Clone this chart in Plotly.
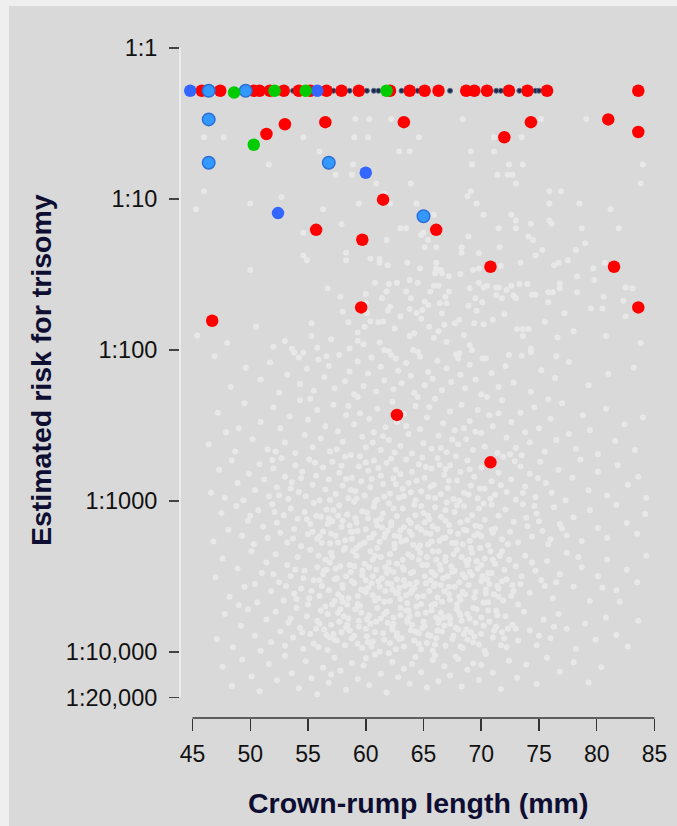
import plotly.graph_objects as go

# ---------------- data ----------------
x_ticks = [45, 50, 55, 60, 65, 70, 75, 80, 85]
y_ticks = [1, 10, 100, 1000, 10000, 20000]
y_tick_labels = ["1:1", "1:10", "1:100", "1:1000", "1:10,000", "1:20,000"]

red_crl = [45.8, 47.4, 50.3, 50.8, 51.7, 52.9, 54.2, 55.2, 56.6, 57.9, 59.4, 62.1, 63.8, 65.1,
           66.3, 68.7, 69.4, 70.5, 72.4, 74.0, 75.7, 83.6,
           53.0, 56.5, 63.3, 74.3, 81.0, 83.6, 51.4, 72.0, 61.5, 55.7, 66.1, 59.7, 70.8, 81.5,
           59.6, 83.6, 46.7, 62.7, 70.8]
red_risk = [1.92, 1.92, 1.92, 1.92, 1.92, 1.92, 1.92, 1.92, 1.92, 1.92, 1.92, 1.92, 1.92, 1.92,
            1.92, 1.92, 1.92, 1.92, 1.92, 1.92, 1.92, 1.92,
            3.2, 3.1, 3.1, 3.1, 2.97, 3.6, 3.71, 3.9, 10.1, 16.0, 16.0, 18.6, 28.1, 28.1,
            52.2, 52.2, 64.0, 269, 554]

blue_crl = [44.8, 55.8, 60.0, 52.4]
blue_risk = [1.92, 1.92, 6.7, 12.4]

lightblue_crl = [46.4, 49.6, 46.4, 46.4, 56.8, 65.0]
lightblue_risk = [1.92, 1.92, 2.97, 5.75, 5.75, 13.0]

green_crl = [48.6, 52.1, 54.8, 61.8, 50.3]
green_risk = [1.97, 1.92, 1.92, 1.92, 4.37]

black_crl = [53.7, 57.2, 57.9, 58.6, 60.1, 60.7, 61.1, 63.1, 64.5, 67.3, 71.3, 71.7, 73.3, 74.7, 75.0]
black_risk = [1.92, 1.92, 1.92, 1.92, 1.92, 1.92, 1.92, 1.92, 1.92, 1.92, 1.92, 1.92, 1.92, 1.92, 1.92]

# unaffected pregnancies (background cloud): (crown-rump length, risk 1:N)
cloud_points = [
    (59.1, 2.95), (60.3, 2.95), (62.2, 2.95), (68.4, 2.95), (75.2, 2.95), (79.1, 2.95),
    (46.0, 3.9), (47.7, 3.9), (54.6, 3.9), (59.0, 3.9), (60.2, 3.9), (64.6, 3.9), (71.1, 3.9), (73.5, 3.9),
    (56.0, 4.85), (62.9, 4.85), (63.8, 4.85), (69.1, 4.85), (71.1, 4.85),
    (51.6, 5.9), (58.9, 5.9), (69.2, 5.9), (72.4, 5.9), (73.6, 5.9), (84.0, 5.9),
    (57.4, 6.9), (58.8, 6.9), (71.4, 6.9), (72.3, 6.9), (72.7, 6.9), (60.9, 7.9), (63.9, 7.9), (73.0, 7.9),
    (83.8, 7.9), (46.0, 8.9), (69.1, 8.9), (75.9, 8.9), (76.9, 8.9), (61.6, 9.2), (68.8, 9.6), (52.7, 9.7),
    (50.0, 10.7), (59.4, 10.7), (62.1, 10.7), (64.4, 10.7), (69.6, 10.7), (75.9, 10.7), (78.5, 10.7),
    (45.3, 11.7), (56.3, 11.7), (81.2, 11.7), (65.9, 12.7), (70.2, 12.7), (72.6, 12.7), (73.0, 13.9),
    (75.9, 13.9), (76.1, 14.6), (74.3, 14.6), (57.9, 14.7), (73.0, 15.6), (71.5, 15.6), (78.7, 15.6),
    (81.9, 15.6), (63.0, 15.6), (63.5, 15.6), (54.6, 16.7), (65.0, 16.7), (64.8, 17.3), (68.9, 17.7),
    (74.1, 17.7), (74.5, 18.7), (61.8, 18.7), (65.4, 18.7), (79.0, 19.6),
    (68.3, 20.9), (71.6, 20.9), (65.1, 20.9), (66.1, 20.9), (75.3, 21.8), (78.2, 21.8), (68.3, 22.7),
    (58.3, 22.7), (69.8, 22.9), (74.7, 23.7), (54.6, 23.7), (60.4, 24.9), (61.2, 24.9), (58.3, 25.4),
    (54.9, 25.4), (77.5, 25.4), (61.2, 26.4), (63.6, 26.4), (66.1, 26.4), (73.4, 26.4), (76.7, 26.4),
    (80.7, 26.4), (61.9, 27.5), (76.3, 27.5), (71.7, 27.8), (64.7, 28.8), (66.1, 28.8), (69.8, 28.8),
    (79.7, 28.8), (50.0, 29.5), (66.5, 29.5), (69.3, 29.5), (66.3, 29.5), (66.6, 31.0), (66.0, 31.0),
    (68.2, 31.4), (67.2, 32.5), (78.3, 32.6), (63.8, 34.4), (79.8, 34.4), (64.5, 35.8), (62.7, 35.8),
    (60.8, 35.8), (69.8, 35.8), (76.8, 36.2), (62.0, 36.6), (73.3, 36.6), (74.0, 36.6), (72.6, 37.6),
    (70.5, 37.6), (66.3, 37.6), (65.9, 37.6), (82.5, 38.5), (71.3, 38.5), (71.5, 38.5), (70.2, 38.6),
    (83.1, 39.0), (76.8, 39.0), (69.0, 39.0), (56.7, 39.0), (72.2, 40.0), (63.5, 41.0), (61.8, 41.0),
    (65.6, 41.0), (67.2, 41.0), (75.8, 41.4), (76.2, 41.4), (78.3, 41.4), (60.0, 42.5), (74.4, 43.0),
    (74.7, 43.0), (71.3, 43.3), (72.8, 43.6), (80.6, 44.4), (66.9, 44.4), (57.8, 44.4), (61.4, 45.4),
    (63.9, 45.4), (69.5, 45.4), (71.8, 45.4), (73.0, 45.4), (82.3, 47.1), (65.1, 47.7), (75.8, 48.3),
    (70.1, 48.3),
    (60.0, 49), (66.4, 49), (67.0, 49), (65.4, 50.3), (68.9, 50.9), (62.1, 51.7), (63.8, 53.4), (79.5, 53),
    (80.5, 53), (64.9, 54.4), (61.9, 55), (69.6, 55), (58.0, 55.8), (66.6, 57), (64.4, 57), (77.2, 57),
    (60.1, 57), (71.0, 63), (68.1, 63), (60.4, 64.6), (61.5, 64.8), (61.1, 65.6), (58.5, 65.6), (69.4, 66.5),
    (55.3, 66.5), (67.7, 66.5), (70.2, 67.5), (59.9, 70), (73.1, 72.5), (73.6, 72.5), (74.1, 72.5),
    (59.3, 76.5), (64.2, 77.5), (68.5, 79.5), (45.4, 80), (73.6, 80.8), (80.8, 80.8), (55.3, 80.8),
    (63.8, 80.8), (76.6, 82.5), (57.0, 84.8), (53.0, 87), (59.3, 86.9), (61.2, 89), (59.8, 91.5),
    (69.0, 92.6), (55.8, 96.5), (74.3, 97.6), (53.6, 97.6), (58.6, 97.6), (64.1, 100), (61.6, 100),
    (69.2, 100), (64.8, 62), (65.5, 70), (66.3, 75), (67.0, 88), (62.5, 72), (63.0, 60), (65.9, 83),
    (66.8, 68), (72.0, 58), (75.5, 65), (78.0, 75), (82.5, 60), (83.8, 90), (48.0, 90), (50.5, 70),
    (52.0, 95), (72.4, 108), (76.5, 110), (68.1, 105), (68.0, 114), (70.1, 114), (62.2, 108), (62.6, 114),
    (54.6, 104), (54.2, 112), (56.6, 110), (64.5, 103), (74.3, 103),
    # 1:100 - 1:200
    (46.9, 110), (48.3, 176), (49.6, 131), (50.9, 157), (51.7, 121), (52.5, 191), (53.2, 146), (53.8, 104),
    (54.3, 168), (54.9, 133), (55.5, 186), (55.9, 116), (56.4, 151), (56.8, 127), (57.3, 179), (57.7, 108),
    (58.2, 161), (58.6, 139), (59.0, 196), (59.3, 119), (59.8, 173), (60.2, 143), (60.5, 112), (60.9, 188),
    (61.3, 129), (61.6, 159), (62.0, 102), (62.4, 182), (62.8, 137), (63.1, 166), (63.5, 122), (63.9, 148),
    (64.2, 192), (64.7, 111), (65.1, 171), (65.4, 140), (65.8, 155), (66.2, 118), (66.6, 185), (67.0, 132),
    (67.4, 163), (67.8, 107), (68.2, 146), (68.6, 179), (69.0, 125), (69.5, 157), (70.0, 197), (70.4, 114),
    (70.9, 142), (71.5, 176), (72.1, 128), (72.8, 164), (73.5, 109), (74.3, 189), (75.2, 136), (76.4, 153),
    (77.6, 120), (79.3, 171), (81.0, 144), (83.2, 131),
    # 1:200 - 1:500
    (46.4, 420), (47.2, 260), (47.9, 350), (48.7, 470), (49.5, 225), (50.2, 390), (50.9, 300), (51.5, 455),
    (52.0, 240), (52.6, 330), (53.0, 410), (53.4, 275), (53.9, 480), (54.3, 215), (54.7, 365), (55.0, 290),
    (55.4, 440), (55.8, 250), (56.1, 385), (56.5, 320), (56.9, 470), (57.2, 230), (57.6, 345), (58.0, 405),
    (58.3, 270), (58.7, 495), (59.0, 310), (59.3, 205), (59.7, 375), (60.0, 440), (60.3, 285), (60.7, 350),
    (61.0, 245), (61.3, 460), (61.7, 325), (62.0, 395), (62.3, 220), (62.7, 300), (63.0, 430), (63.3, 265),
    (63.7, 360), (64.0, 485), (64.3, 235), (64.7, 335), (65.0, 415), (65.3, 280), (65.7, 450), (66.0, 210),
    (66.3, 370), (66.7, 305), (67.0, 475), (67.3, 255), (67.7, 340), (68.0, 420), (68.3, 230), (68.7, 390),
    (69.0, 295), (69.3, 460), (69.7, 250), (70.0, 355), (70.3, 435), (70.7, 270), (71.0, 320), (71.4, 480),
    (71.8, 215), (72.2, 380), (72.6, 300), (73.0, 445), (73.4, 260), (73.8, 350), (74.2, 410), (74.6, 240),
    (75.0, 330), (75.5, 470), (76.0, 285), (76.5, 395), (77.0, 225), (77.6, 360), (78.2, 450), (78.8, 270),
    (79.4, 340), (80.1, 490), (80.8, 245), (81.6, 400), (82.4, 310), (83.3, 460), (84.0, 280), (55.2, 210),
    (58.5, 235), (60.6, 410), (62.5, 478), (64.5, 205), (66.5, 445), (68.5, 330), (70.5, 205), (72.5, 490),
    (57.5, 455), (59.5, 262), (61.5, 372), (63.5, 318), (65.5, 238), (67.5, 392), (69.5, 348), (71.5, 262),
    (73.5, 498), (75.8, 212), (52.2, 470), (49.0, 330),
    # 1:500 - 1:1000
    (46.6, 880), (47.3, 620), (47.8, 950), (48.4, 540), (48.9, 760), (49.4, 990), (49.9, 660), (50.4, 850),
    (50.8, 570), (51.2, 720), (51.6, 930), (52.0, 610), (52.3, 810), (52.7, 520), (53.0, 690), (53.3, 970),
    (53.6, 750), (53.9, 580), (54.2, 870), (54.5, 640), (54.8, 930), (55.1, 530), (55.4, 780), (55.7, 680),
    (56.0, 990), (56.3, 600), (56.5, 840), (56.8, 720), (57.1, 550), (57.4, 900), (57.7, 650), (58.0, 790),
    (58.2, 510), (58.5, 960), (58.8, 700), (59.1, 860), (59.4, 590), (59.6, 740), (59.9, 920), (60.2, 630),
    (60.4, 810), (60.7, 540), (61.0, 980), (61.3, 680), (61.5, 770), (61.8, 560), (62.1, 890), (62.4, 710),
    (62.6, 620), (62.9, 950), (63.2, 830), (63.5, 530), (63.7, 760), (64.0, 640), (64.3, 990), (64.6, 570),
    (64.8, 860), (65.1, 700), (65.4, 940), (65.7, 610), (65.9, 780), (66.2, 520), (66.5, 900), (66.8, 670),
    (67.1, 820), (67.3, 580), (67.6, 970), (67.9, 730), (68.2, 640), (68.5, 880), (68.8, 540), (69.1, 790),
    (69.4, 690), (69.7, 960), (70.0, 600), (70.3, 830), (70.6, 560), (70.9, 740), (71.2, 910), (71.5, 650),
    (71.9, 510), (72.2, 870), (72.6, 720), (73.0, 980), (73.4, 590), (73.8, 800), (74.2, 660), (74.7, 940),
    (75.1, 550), (75.6, 760), (76.1, 880), (76.7, 620), (77.3, 990), (77.9, 700), (78.6, 530), (79.3, 850),
    (80.1, 640), (80.9, 920), (81.8, 580), (82.7, 780), (83.6, 690), (84.3, 950), (57.9, 585), (58.7, 845),
    (59.5, 505), (60.5, 715), (61.6, 935), (62.2, 525), (63.0, 665), (63.9, 875), (64.9, 515), (65.6, 805),
    (66.4, 575), (67.2, 735), (68.1, 995), (69.0, 615), (69.9, 825), (55.6, 555), (56.9, 985), (54.4, 705),
    (70.8, 965), (71.7, 785), (72.9, 545), (73.6, 885), (74.9, 705), (53.5, 825), (52.5, 915), (51.9, 535),
    (60.0, 555), (61.1, 605), (62.6, 775), (63.3, 925), (64.4, 735), (66.0, 955), (67.8, 505), (68.9, 905),
    (66.9, 615), (65.2, 595), (59.2, 965), (58.3, 715),
    # 1:1000 - 1:2000
    (46.8, 1850), (47.5, 1200), (48.1, 1550), (48.8, 1080), (49.3, 1700), (49.8, 1350), (50.3, 1930),
    (50.7, 1150), (51.1, 1480), (51.5, 1760), (51.9, 1050), (52.3, 1390), (52.6, 1620), (52.9, 1240),
    (53.2, 1880), (53.5, 1120), (53.8, 1530), (54.1, 1310), (54.4, 1990), (54.7, 1180), (55.0, 1660),
    (55.2, 1420), (55.5, 1030), (55.8, 1780), (56.1, 1270), (56.3, 1590), (56.6, 1140), (56.9, 1910),
    (57.1, 1360), (57.4, 1700), (57.7, 1070), (57.9, 1480), (58.2, 1820), (58.4, 1230), (58.7, 1600),
    (59.0, 1010), (59.2, 1390), (59.5, 1950), (59.7, 1170), (60.0, 1540), (60.2, 1300), (60.5, 1740),
    (60.7, 1090), (61.0, 1450), (61.2, 1860), (61.5, 1210), (61.7, 1640), (62.0, 1040), (62.2, 1380),
    (62.5, 1920), (62.7, 1260), (63.0, 1570), (63.2, 1120), (63.5, 1810), (63.7, 1340), (64.0, 1680),
    (64.2, 1060), (64.5, 1490), (64.7, 1970), (65.0, 1200), (65.2, 1620), (65.5, 1320), (65.7, 1850),
    (66.0, 1100), (66.2, 1530), (66.5, 1270), (66.7, 1760), (67.0, 1020), (67.2, 1440), (67.5, 1900),
    (67.7, 1180), (68.0, 1650), (68.2, 1380), (68.5, 1080), (68.7, 1570), (69.0, 1830), (69.2, 1240),
    (69.5, 1460), (69.8, 1120), (70.0, 1710), (70.3, 1330), (70.6, 1960), (70.9, 1060), (71.2, 1520),
    (71.5, 1250), (71.8, 1790), (72.1, 1140), (72.5, 1600), (72.8, 1370), (73.2, 1880), (73.6, 1050),
    (74.0, 1470), (74.4, 1720), (74.8, 1210), (75.3, 1580), (75.8, 1930), (76.3, 1100), (76.8, 1420),
    (77.4, 1690), (78.0, 1280), (78.7, 1840), (79.4, 1150), (80.1, 1510), (80.9, 1760), (81.7, 1060),
    (82.6, 1400), (83.5, 1650), (84.2, 1220), (57.2, 1150), (58.8, 1780), (60.1, 1190), (61.3, 1310),
    (62.9, 1720), (64.3, 1240), (65.8, 1470), (67.3, 1590), (68.8, 1340), (70.2, 1040), (59.9, 1880),
    (61.9, 1570), (63.9, 1400), (65.4, 1940), (66.9, 1150), (54.9, 1320), (56.0, 1710), (71.0, 1620),
    (72.3, 1930), (73.9, 1290), (60.8, 1010), (62.4, 1120), (63.3, 1490), (64.8, 1080), (66.4, 1830),
    (67.9, 1070), (69.4, 1690), (58.0, 1350), (59.3, 1580), (55.7, 1250), (53.7, 1770), (52.1, 1180),
    (75.0, 1360), (76.0, 1790), (77.0, 1520), (69.9, 1480), (68.4, 1930), (65.1, 1380), (61.6, 1730),
    (57.6, 1880), (56.7, 1420), (50.0, 1250), (74.6, 1080),
    # 1:2000 - 1:5000
    (47.0, 3200), (47.6, 2400), (48.2, 4300), (48.9, 2800), (49.5, 3700), (50.1, 2150), (50.6, 4700),
    (51.0, 3000), (51.4, 2550), (51.8, 3950), (52.2, 2250), (52.5, 3450), (52.9, 4550), (53.2, 2650),
    (53.5, 3150), (53.8, 4100), (54.1, 2350), (54.4, 3800), (54.7, 2900), (55.0, 4850), (55.2, 2100),
    (55.5, 3350), (55.8, 2750), (56.0, 4250), (56.3, 3050), (56.5, 2450), (56.8, 3900), (57.0, 2200),
    (57.3, 4600), (57.5, 3250), (57.8, 2700), (58.0, 3600), (58.2, 2050), (58.5, 4400), (58.7, 2950),
    (59.0, 3500), (59.2, 2300), (59.5, 4950), (59.7, 3100), (59.9, 2600), (60.2, 3750), (60.4, 2150),
    (60.6, 4200), (60.9, 2850), (61.1, 3400), (61.3, 2350), (61.6, 4650), (61.8, 3000), (62.0, 2550),
    (62.3, 3850), (62.5, 2050), (62.7, 3300), (63.0, 4450), (63.2, 2750), (63.4, 3650), (63.7, 2250),
    (63.9, 4050), (64.1, 2950), (64.4, 3450), (64.6, 2450), (64.8, 4800), (65.1, 3150), (65.3, 2650),
    (65.5, 3950), (65.8, 2150), (66.0, 3550), (66.2, 4350), (66.5, 2850), (66.7, 3250), (66.9, 2350),
    (67.2, 4150), (67.4, 2700), (67.7, 3700), (67.9, 2100), (68.2, 4500), (68.4, 3050), (68.7, 2500),
    (68.9, 3600), (69.2, 2200), (69.5, 4000), (69.7, 2800), (70.0, 3400), (70.3, 2400), (70.6, 4700),
    (70.9, 3000), (71.2, 2600), (71.5, 3800), (71.8, 2150), (72.2, 3300), (72.6, 4250), (73.0, 2700),
    (73.4, 3550), (73.8, 2300), (74.2, 4050), (74.7, 2900), (75.2, 3350), (75.7, 2500), (76.2, 4400),
    (76.8, 3050), (77.4, 2200), (78.0, 3700), (78.7, 2750), (79.4, 4600), (80.1, 3150), (80.9, 2450),
    (81.7, 3900), (82.6, 2850), (83.5, 3450), (84.3, 2300),
    (56.2, 3650), (56.9, 2550), (57.6, 4150), (58.3, 3150), (58.9, 2150), (59.6, 3850), (60.3, 2750),
    (60.8, 4550), (61.4, 3250), (62.1, 2250), (62.6, 4050), (63.3, 2850), (63.8, 3550), (64.5, 2050),
    (65.0, 4250), (65.6, 3350), (66.1, 2450), (66.8, 3950), (67.5, 2950), (68.1, 3450), (68.8, 2650),
    (69.4, 4350), (70.1, 3150), (70.8, 2150), (71.4, 3650), (72.0, 2850), (72.8, 3950), (73.5, 3150),
    (74.4, 2550), (55.3, 3950), (54.6, 3250), (53.9, 2850), (53.1, 3650), (61.0, 2050), (62.9, 3750),
    (64.9, 2650), (66.6, 4650), (68.6, 4150), (60.0, 3350), (58.6, 2650), (57.1, 4850), (63.6, 4750),
    (65.7, 2950), (67.1, 3150), (69.0, 2950), (70.4, 3850), (71.9, 4550), (59.3, 4250), (61.7, 3950),
    (62.4, 2950), (64.2, 3750), (66.3, 2150), (67.9, 4850), (69.9, 2050), (71.1, 4150), (73.2, 4850),
    (75.5, 3650), (56.6, 2850), (58.0, 4650), (60.6, 3150), (62.2, 3550), (64.0, 2350), (65.9, 3650),
    (68.3, 2350), (70.7, 3550), (72.4, 2450), (76.5, 3450), (54.0, 4450), (52.0, 3050), (50.4, 3550),
    (49.0, 4900), (78.4, 2350), (80.5, 3750), (82.0, 4650),
    # 1:5000 - 1:10,000
    (47.1, 8200), (47.8, 5600), (48.5, 9300), (49.2, 6700), (49.8, 5200), (50.4, 7800), (50.9, 9800),
    (51.4, 6100), (51.8, 8600), (52.2, 5400), (52.6, 7300), (53.0, 9100), (53.3, 6400), (53.7, 8000),
    (54.0, 5100), (54.3, 6900), (54.6, 9500), (54.9, 5800), (55.2, 7600), (55.5, 8800), (55.8, 6200),
    (56.1, 5300), (56.4, 7100), (56.7, 9700), (57.0, 6600), (57.3, 8300), (57.6, 5500), (57.9, 7400),
    (58.2, 9000), (58.5, 6000), (58.8, 8100), (59.1, 5200), (59.4, 6800), (59.7, 9400), (60.0, 7000),
    (60.3, 5700), (60.6, 8500), (60.9, 6300), (61.2, 9900), (61.5, 7500), (61.8, 5400), (62.1, 8700),
    (62.4, 6500), (62.7, 7900), (63.0, 5100), (63.3, 9200), (63.6, 6100), (63.9, 7200), (64.2, 8400),
    (64.5, 5600), (64.8, 9600), (65.1, 6700), (65.4, 7700), (65.7, 5300), (66.0, 8900), (66.3, 6400),
    (66.6, 7300), (66.9, 9100), (67.2, 5800), (67.5, 8200), (67.8, 6900), (68.1, 5500), (68.4, 9400),
    (68.7, 7100), (69.0, 6000), (69.3, 8600), (69.6, 5200), (70.0, 7600), (70.3, 9800), (70.7, 6300),
    (71.0, 8000), (71.4, 5700), (71.8, 7400), (72.2, 9300), (72.7, 6600), (73.2, 8400), (73.7, 5400),
    (74.2, 7200), (74.8, 9000), (75.4, 6100), (76.0, 8100), (76.7, 5600), (77.4, 7000), (78.2, 9500),
    (79.0, 6500), (79.9, 8300), (80.8, 5900), (81.7, 7700), (82.7, 9200), (83.6, 6200),
    (56.0, 6500), (56.9, 8000), (57.7, 6300), (58.6, 7200), (59.3, 8800), (60.1, 6100), (60.8, 7400),
    (61.6, 5600), (62.3, 7100), (63.1, 8100), (63.8, 5800), (64.6, 7500), (65.3, 8700), (66.1, 5900),
    (66.8, 6700), (67.6, 7800), (68.3, 6200), (69.1, 7400), (69.8, 8900), (70.6, 5300), (71.3, 6800),
    (72.0, 8100), (62.6, 9600), (64.0, 6600), (65.8, 9800), (67.3, 6000), (59.0, 7800), (60.5, 9200),
    (61.9, 6400), (63.5, 5300), (55.9, 9300), (57.2, 7600), (58.1, 5800), (66.5, 5500), (68.8, 8300),
    (70.2, 6700), (71.7, 9000), (73.0, 7000), (54.5, 7400), (53.5, 6000), (75.0, 7800), (76.3, 6800),
    # dense core, 1:1200 - 1:9000
    (55.4, 1600), (55.9, 2300), (56.4, 2900), (56.8, 1300), (57.3, 3300), (57.8, 5200), (58.1, 2100),
    (58.6, 1450), (59.0, 2700), (59.4, 6200), (59.8, 3900), (60.3, 1750), (60.6, 2450), (61.0, 5100),
    (61.4, 1500), (61.9, 3500), (62.3, 6800), (62.7, 2600), (63.1, 1850), (63.5, 4200), (63.9, 3000),
    (64.3, 7300), (64.7, 2200), (65.2, 5500), (65.6, 1650), (66.0, 3100), (66.4, 6100), (66.9, 2500),
    (67.3, 4500), (67.8, 1900), (68.2, 5700), (68.6, 3200), (69.1, 2050), (69.5, 6400), (70.0, 2650),
    (70.4, 4100), (70.9, 1550), (71.3, 5300), (71.8, 3400), (72.3, 7000),
    (55.1, 4400), (55.7, 7000), (56.2, 1900), (56.7, 5600), (57.1, 2350), (57.5, 8400), (58.0, 3750),
    (58.4, 6600), (58.9, 1600), (59.3, 4800), (59.7, 2900), (60.1, 7900), (60.5, 3500), (60.9, 1350),
    (61.3, 6000), (61.7, 2750), (62.1, 4600), (62.5, 1700), (62.9, 8200), (63.3, 3350), (63.7, 5300),
    (64.1, 1950), (64.5, 4300), (64.9, 6900), (65.3, 2350), (65.7, 4900), (66.1, 8100), (66.5, 3600),
    (66.9, 1750), (67.3, 6500), (67.7, 2900), (68.1, 4300), (68.5, 7600), (68.9, 2450), (69.3, 5100),
    (69.7, 1650), (70.2, 4700), (70.6, 3000), (71.1, 7200), (71.6, 2300),
    (56.0, 3350), (56.5, 5000), (57.0, 1650), (57.4, 2800), (57.9, 4350), (58.3, 6900), (58.8, 3400),
    (59.2, 2050), (59.6, 5500), (60.0, 4000), (60.4, 6500), (60.8, 2300), (61.2, 3700), (61.6, 8300),
    (62.0, 2850), (62.4, 5900), (62.8, 4100), (63.2, 2450), (63.6, 6300), (64.0, 3900), (64.4, 5000),
    (64.8, 1550), (65.2, 3500), (65.6, 7800), (66.0, 4800), (66.4, 2650), (66.8, 5900), (67.2, 3700),
    (67.6, 2250), (68.0, 7100), (68.4, 4000), (68.8, 5600), (69.2, 3100), (69.6, 2500), (70.0, 5900),
    (70.5, 3300), (71.0, 2450), (71.5, 4300), (72.1, 5800), (72.7, 3600),
    (57.6, 1250), (59.1, 1300), (60.7, 1650), (62.2, 1450), (63.8, 1600), (65.4, 1250), (66.9, 1350),
    (68.5, 1550), (58.4, 4850), (61.1, 4400), (63.0, 5700), (64.6, 8800), (66.2, 7200), (67.9, 5200),
    (69.4, 7900), (60.2, 8600), (56.6, 7700), (62.7, 7500), (65.0, 6300), (68.2, 9200),
    # 1:10,000 - 1:20,000
    (47.6, 12500), (48.4, 16800), (49.3, 11200), (50.1, 14500), (50.8, 18200), (51.6, 12000),
    (52.3, 15400), (53.0, 10600), (53.6, 13800), (54.2, 17400), (54.8, 11500), (55.3, 14900),
    (55.8, 19000), (56.3, 12700), (56.8, 16000), (57.3, 10900), (57.8, 13300), (58.3, 17800),
    (58.8, 11800), (59.3, 15100), (59.8, 12300), (60.3, 16600), (60.8, 10400), (61.3, 13900),
    (61.8, 18500), (62.3, 11600), (62.8, 14700), (63.3, 12900), (63.8, 16200), (64.3, 10800),
    (64.8, 13600), (65.3, 17200), (65.8, 11300), (66.3, 15600), (66.8, 12400), (67.3, 14300),
    (67.8, 10700), (68.3, 16900), (68.8, 13100), (69.3, 11900), (69.8, 15300), (70.4, 10300),
    (71.0, 13700), (71.7, 17600), (72.4, 11400), (73.1, 14800), (73.9, 12100), (74.8, 16300),
    (75.7, 10900), (76.8, 13500), (78.0, 11700), (79.3, 15900), (80.4, 12600), (60.0, 11000),
    (62.0, 10200), (64.0, 12000), (66.0, 10500), (68.0, 11100), (57.0, 14100), (70.0, 12200),
]

cloud_crl = [p[0] for p in cloud_points]
cloud_risk = [p[1] for p in cloud_points]

# ---------------- figure ----------------
FONT = "Liberation Sans, Arial, Helvetica, sans-serif"
TITLE_COLOR = "#0e0e33"
BG = "#d9d9d9"
FRAME = "#efefef"

fig = go.Figure()

fig.add_trace(go.Scatter(x=cloud_crl, y=cloud_risk, mode="markers",
                         marker=dict(size=6, color="#e8e8e8", line=dict(width=0)),
                         hoverinfo="skip", cliponaxis=False))
fig.add_trace(go.Scatter(x=black_crl, y=black_risk, mode="markers",
                         marker=dict(size=5, color="#1b2a49", line=dict(width=1, color="#56698c")),
                         cliponaxis=False))
fig.add_trace(go.Scatter(x=red_crl, y=red_risk, mode="markers",
                         marker=dict(size=12.5, color="#ff0000", line=dict(width=0)),
                         cliponaxis=False))
fig.add_trace(go.Scatter(x=blue_crl, y=blue_risk, mode="markers",
                         marker=dict(size=12.5, color="#3366ff", line=dict(width=0)),
                         cliponaxis=False))
fig.add_trace(go.Scatter(x=lightblue_crl, y=lightblue_risk, mode="markers",
                         marker=dict(size=12.5, color="#3399ff", line=dict(width=1.5, color="#2b6fd8")),
                         cliponaxis=False))
fig.add_trace(go.Scatter(x=green_crl, y=green_risk, mode="markers",
                         marker=dict(size=12.5, color="#00cc00", line=dict(width=0)),
                         cliponaxis=False))

# geometry (pixels; figure fills the page from its top-left corner)
W, H = 677, 826
ML, MR, MT, MB = 181, 11, 48, 108
plot_w = W - ML - MR
plot_h = H - MT - MB


def px_x(p):
    return (p - ML) / plot_w


def px_y(p):
    return (H - MB - p) / plot_h


fig.update_layout(
    width=W, height=H,
    margin=dict(l=ML, r=MR, t=MT, b=MB, pad=0),
    paper_bgcolor=BG, plot_bgcolor=BG,
    showlegend=False,
    hovermode=False,
    font=dict(family=FONT, size=23, color="#111111"),
    xaxis=dict(range=[44, 86], domain=[0, 1], anchor="free", position=0,
               tickvals=x_ticks, ticktext=[str(v) for v in x_ticks],
               ticks="outside", ticklen=12, tickwidth=1.5, tickcolor="#333333",
               showline=False, showgrid=False, zeroline=False,
               tickfont=dict(size=23, color="#111111"), ticklabelstandoff=3),
    yaxis=dict(type="log", range=[4.30103, 0], domain=[0.0306, 1],
               tickvals=y_ticks, ticktext=y_tick_labels,
               ticks="outside", ticklen=10, tickwidth=1.5, tickcolor="#444444",
               showline=True, linecolor="#ebebeb", linewidth=2,
               showgrid=False, zeroline=False,
               tickfont=dict(size=23.5, color="#111111"), ticklabelstandoff=7),
)

# x-axis baseline spanning the tick range
fig.add_shape(type="line", xref="x", yref="paper",
              x0=x_ticks[0], x1=x_ticks[-1], y0=0, y1=0,
              line=dict(color="#333333", width=1.5))

# light outer frame along the left and top edges
fig.add_shape(type="rect", xref="paper", yref="paper", layer="below",
              x0=px_x(0), x1=px_x(9), y0=px_y(H), y1=px_y(0),
              line=dict(width=0), fillcolor=FRAME)
fig.add_shape(type="rect", xref="paper", yref="paper", layer="below",
              x0=px_x(0), x1=px_x(W), y0=px_y(6), y1=px_y(0),
              line=dict(width=0), fillcolor=FRAME)

fig.add_annotation(text="<b>Crown-rump length (mm)</b>", xref="paper", yref="paper",
                   x=px_x(418), y=px_y(803), xanchor="center", yanchor="middle",
                   showarrow=False, font=dict(size=28.5, color=TITLE_COLOR, family=FONT))
fig.add_annotation(text="<b>Estimated risk for trisomy</b>", xref="paper", yref="paper",
                   x=px_x(41), y=px_y(370), xanchor="center", yanchor="middle",
                   textangle=-90, showarrow=False,
                   font=dict(size=28.5, color=TITLE_COLOR, family=FONT))

fig.write_html(
    "out.html",
    config={"displayModeBar": False, "staticPlot": True},
    post_script="document.documentElement.style.overflow='hidden';"
                "document.body.style.overflow='hidden';"
                "document.body.style.margin='0';",
)
